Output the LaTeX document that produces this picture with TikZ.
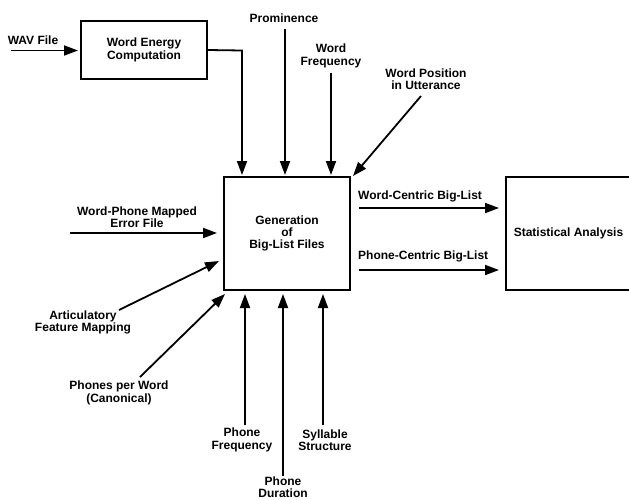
\documentclass[tikz,border=0pt]{standalone}
\usepackage{fontspec}
\setmainfont{Liberation Sans}
\usetikzlibrary{arrows.meta}
\begin{document}
\begin{tikzpicture}[x=1pt,y=-1pt,
  lbl/.style={font=\bfseries\fontsize{12}{12.3}\selectfont, align=center, inner sep=0pt},
  box/.style={draw, line width=1.8pt},
  arr/.style={line width=1.8pt, -{Triangle[length=14pt,width=10pt]}}]
\clip (0,0) rectangle (629,499);
\useasboundingbox (0,0) rectangle (629,499);
% boxes
\node[box, lbl, minimum width=126pt, minimum height=58pt] (energy) at (144,50) {Word Energy\\Computation};
\node[box, lbl, minimum width=126pt, minimum height=113pt] (gen) at (287,233.5) {Generation\\of\\Big-List Files};
\draw[line width=1.8pt] (645,177) -- (506,177) -- (506,290) -- (645,290);
\node[lbl] (stat) at (568.5,233) {Statistical Analysis};
% labels
\node[lbl] (wav) at (33,40) {WAV File};
\node[lbl] (prom) at (284,18) {Prominence};
\node[lbl] (wfreq) at (331,56) {Word\\Frequency};
\node[lbl] (wpos) at (426,79) {Word Position\\in Utterance};
\node[lbl] (wpm) at (137,217) {Word-Phone Mapped\\Error File};
\node[lbl] (artic) at (83,322.5) {Articulatory\\Feature Mapping};
\node[lbl] (ppw) at (119,393) {Phones per Word\\(Canonical)};
\node[lbl] (pfreq) at (242,440) {Phone\\Frequency};
\node[lbl] (pdur) at (283,487) {Phone\\Duration};
\node[lbl] (syl) at (325,440) {Syllable\\Structure};
\node[lbl, anchor=west] (wcbl) at (358,196) {Word-Centric Big-List};
\node[lbl, anchor=west] (pcbl) at (358,256) {Phone-Centric Big-List};
% free ends
\coordinate (wavs) at (11,50.5);
\coordinate (wave) at (78,50.5);
\coordinate (ebend) at (242,50.5);
\coordinate (ee) at (242,175);
\coordinate (proms) at (285,29);
\coordinate (prome) at (285,175);
\coordinate (wfs) at (331,73);
\coordinate (wfe) at (331,175);
\coordinate (wps) at (421,96);
\coordinate (wpe) at (353,176);
\coordinate (wpms) at (70,233);
\coordinate (wpme) at (217,233);
\coordinate (ars) at (119,310);
\coordinate (are) at (219,261);
\coordinate (pps) at (140,377);
\coordinate (ppe) at (225,294);
\coordinate (pfs) at (245,425);
\coordinate (pfe) at (245,294);
\coordinate (pds) at (283,476);
\coordinate (pde) at (283,294);
\coordinate (sys) at (323,425);
\coordinate (sye) at (323,294);
\coordinate (wcs) at (359,208);
\coordinate (wce) at (499,208);
\coordinate (pcs) at (359,270);
\coordinate (pce) at (499,270);
% arrows
\draw[arr] (wavs) -- (wave);
\draw[arr] (energy.east) -- (ebend) -- (ee);
\draw[arr] (proms) -- (prome);
\draw[arr] (wfs) -- (wfe);
\draw[arr] (wps) -- (wpe);
\draw[arr] (wpms) -- (wpme);
\draw[arr] (ars) -- (are);
\draw[arr] (pps) -- (ppe);
\draw[arr] (pfs) -- (pfe);
\draw[arr] (pds) -- (pde);
\draw[arr] (sys) -- (sye);
\draw[arr] (wcs) -- (wce);
\draw[arr] (pcs) -- (pce);
\end{tikzpicture}
\end{document}
